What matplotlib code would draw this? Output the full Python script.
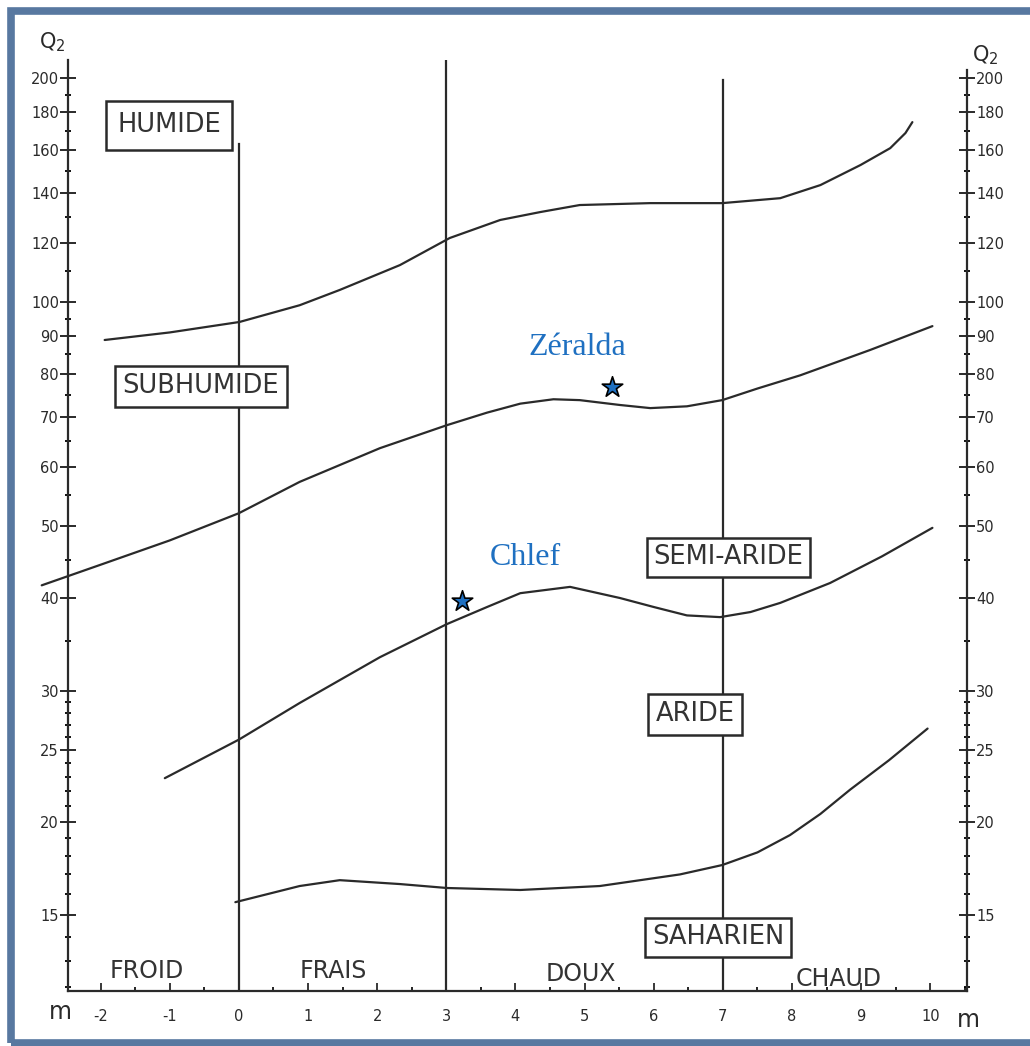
import numpy as np
import matplotlib.pyplot as plt
import matplotlib as mpl
from matplotlib.patches import Rectangle

# Emberger climagram: Q2 (log scale) against m (mean minimum of the coldest month)

# Limits between bioclimatic stages, read as (m, Q2) pairs
HUMID_SUBHUMID_M = [-1.94, -1.0, 0.01, 0.88, 1.46, 2.33, 3.05, 3.78, 4.36, 4.93, 5.95, 6.99,
                    7.83, 8.41, 8.99, 9.42, 9.64, 9.74]
HUMID_SUBHUMID_Q = [88.9, 91.0, 94.0, 99.0, 103.8, 112.1, 121.9, 128.9, 132.1, 135.0, 135.8, 135.8,
                    137.9, 143.6, 152.8, 161.0, 168.7, 174.5]

SUBHUMID_SEMIARID_M = [-2.85, -2.01, -1.0, 0.0, 0.88, 2.04, 3.01, 3.59, 4.07, 4.55, 4.93, 5.51,
                       5.95, 6.48, 6.99, 7.5, 8.12, 9.13, 10.03]
SUBHUMID_SEMIARID_Q = [41.6, 44.3, 47.8, 52.0, 57.3, 63.6, 68.3, 71.0, 73.0, 74.0, 73.8, 72.7,
                       72.0, 72.4, 73.8, 76.5, 79.7, 86.2, 92.8]

SEMIARID_ARID_M = [-1.07, 0.0, 0.88, 2.04, 3.01, 3.59, 4.07, 4.79, 5.51, 6.0, 6.48, 6.96,
                   7.4, 7.83, 8.55, 9.3, 10.03]
SEMIARID_ARID_Q = [22.9, 25.8, 28.9, 33.3, 36.9, 38.9, 40.6, 41.4, 40.0, 38.9, 37.9, 37.7,
                   38.3, 39.4, 41.9, 45.5, 49.7]

ARID_SAHARAN_M = [-0.05, 0.88, 1.46, 2.33, 3.01, 4.07, 5.22, 6.38, 6.99, 7.5, 7.97, 8.41,
                  8.84, 9.4, 9.96]
ARID_SAHARAN_Q = [15.6, 16.4, 16.7, 16.5, 16.3, 16.2, 16.4, 17.0, 17.5, 18.2, 19.2, 20.5,
                  22.1, 24.2, 26.7]

LIMITS = [
    (HUMID_SUBHUMID_M, HUMID_SUBHUMID_Q),
    (SUBHUMID_SEMIARID_M, SUBHUMID_SEMIARID_Q),
    (SEMIARID_ARID_M, SEMIARID_ARID_Q),
    (ARID_SAHARAN_M, ARID_SAHARAN_Q),
]

# Winter variant boundaries (vertical lines) and their upper ends
VLINE_M = [0, 3, 7]
VLINE_TOP = [163, 211, 199]

# Stations
STATIONS = ["Zéralda", "Chlef"]
STATION_M = [5.40, 3.23]
STATION_Q = [76.8, 39.6]
STATION_LABEL_M = [4.89, 4.15]
STATION_LABEL_Q = [86.9, 45.4]

# Stage names and their anchors
STAGES = ["HUMIDE", "SUBHUMIDE", "SEMI-ARIDE", "ARIDE", "SAHARIEN"]
STAGE_M = [-1.01, -0.55, 7.08, 6.60, 6.93]
STAGE_Q = [172.9, 77.0, 45.4, 27.9, 14.0]
STAGE_PAD = [0.45, 0.3, 0.25, 0.3, 0.25]

WINTERS = ["FROID", "FRAIS", "DOUX", "CHAUD"]
WINTER_M = [-1.33, 1.36, 4.95, 8.67]
WINTER_Q = [12.6, 12.6, 12.5, 12.3]

Q_MAJOR = [15, 20, 25, 30, 40, 50, 60, 70, 80, 90, 100, 120, 140, 160, 180, 200]
Q_MINOR = [12, 13, 14, 16, 17, 18, 19, 21, 22, 23, 24, 26, 27, 28, 29, 35, 45, 55, 65,
           75, 85, 95, 110, 130, 150, 170, 190]
M_MAJOR = list(range(-2, 11))
M_MINOR = [v + 0.5 for v in range(-3, 11)]

INK = "#2a2a2a"
BLUE = "#1f70c1"

mpl.rcParams.update({
    "font.family": ["DejaVu Sans"],
    "axes.unicode_minus": False,
})

W, H = 1030, 1046
fig = plt.figure(figsize=(W / 100, H / 100), dpi=100)
fig.patch.set_facecolor("white")

ax_l, ax_r, ax_b, ax_t = 68, 967, 991, 60
ax = fig.add_axes([ax_l / W, 1 - ax_b / H, (ax_r - ax_l) / W, (ax_b - ax_t) / H])
ax.set_facecolor("none")
ax.set_yscale("log")
ax.set_xlim(-2.47, 10.53)
ax.set_ylim(11.85, 211.5)

for side in ["left", "right", "bottom"]:
    ax.spines[side].set_color(INK)
    ax.spines[side].set_linewidth(1.6)
ax.spines["top"].set_visible(False)
ax.spines["right"].set_bounds(11.85, 205)

ax.yaxis.set_major_locator(mpl.ticker.FixedLocator(Q_MAJOR))
ax.yaxis.set_minor_locator(mpl.ticker.FixedLocator(Q_MINOR))
ax.yaxis.set_major_formatter(mpl.ticker.FixedFormatter([str(q) for q in Q_MAJOR]))
ax.yaxis.set_minor_formatter(mpl.ticker.NullFormatter())
ax.xaxis.set_major_locator(mpl.ticker.FixedLocator(M_MAJOR))
ax.xaxis.set_minor_locator(mpl.ticker.FixedLocator(M_MINOR))
ax.set_xticklabels([str(v) for v in M_MAJOR])

ax.tick_params(axis="y", which="major", direction="inout", length=11, width=1.4,
               left=True, right=True, labelleft=True, labelright=True,
               labelsize=10.5, colors=INK, pad=1)
ax.tick_params(axis="y", which="minor", direction="inout", length=5, width=1.3,
               left=True, right=True)
ax.tick_params(axis="x", which="major", direction="in", length=6, width=1.3,
               labelsize=10.5, colors=INK, pad=13)
ax.tick_params(axis="x", which="minor", direction="in", length=3, width=1.2)

# Vertical winter limits
for m, top in zip(VLINE_M, VLINE_TOP):
    ax.plot([m, m], [11.85, top], color=INK, lw=1.6, zorder=2)

# Stage limits
for ms, qs in LIMITS:
    ax.plot(ms, qs, color=INK, lw=1.6, zorder=2, clip_on=False,
            solid_capstyle="round", solid_joinstyle="round")

# Stage boxes
for name, m, q, pad in zip(STAGES, STAGE_M, STAGE_Q, STAGE_PAD):
    ax.text(m, q, name, ha="center", va="center", fontsize=18.5, color="#333333",
            zorder=4,
            bbox=dict(boxstyle=f"square,pad={pad}", facecolor="white",
                      edgecolor=INK, linewidth=1.8))

for name, m, q in zip(WINTERS, WINTER_M, WINTER_Q):
    ax.text(m, q, name, ha="center", va="center", fontsize=17, color="#333333",
            zorder=4)

# Stations
ax.scatter(STATION_M, STATION_Q, marker="*", s=240, facecolor=BLUE,
           edgecolor="black", linewidth=1.2, zorder=5)
for name, m, q in zip(STATIONS, STATION_LABEL_M, STATION_LABEL_Q):
    ax.text(m, q, name, ha="center", va="center", fontsize=23, color=BLUE,
            family="Liberation Serif", zorder=5)

# Axis names
fig.text(52 / W, 1 - 42 / H, "Q$_2$", ha="center", va="center", fontsize=15, color=INK)
fig.text(985 / W, 1 - 55 / H, "Q$_2$", ha="center", va="center", fontsize=15, color=INK)
fig.text(60 / W, 1 - 1012 / H, "m", ha="center", va="center", fontsize=17, color=INK)
fig.text(968 / W, 1 - 1020 / H, "m", ha="center", va="center", fontsize=17, color=INK)

# Outer frame (right side falls just past the canvas edge)
fig.patches.append(Rectangle((11 / W, 1 - 1043 / H), (1034 - 11) / W, (1043 - 11) / H,
                             transform=fig.transFigure, fill=False,
                             edgecolor="#5878a0", linewidth=5.5, zorder=10))

fig.savefig("out.png", dpi=100)
